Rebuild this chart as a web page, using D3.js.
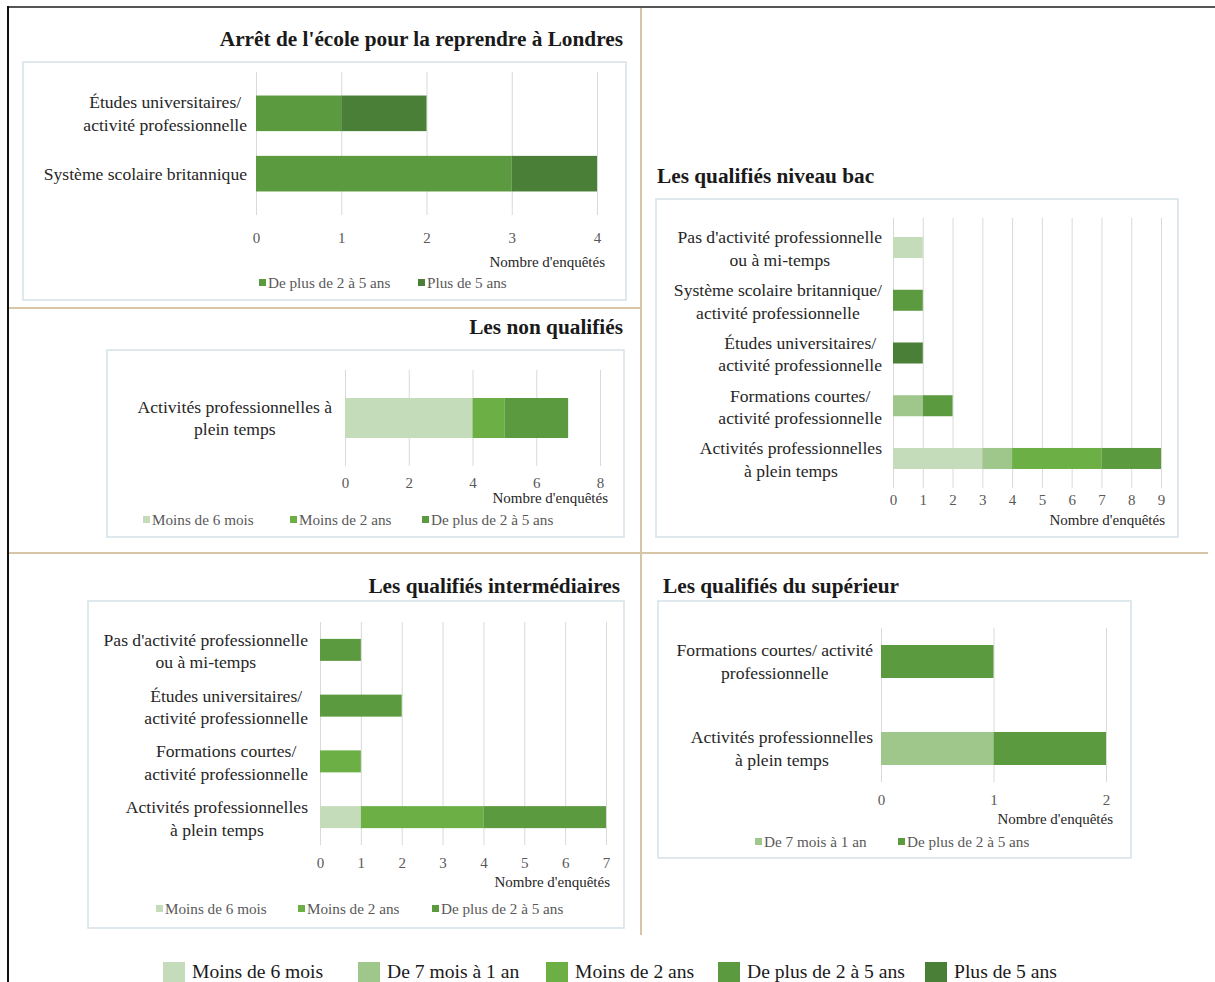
<!DOCTYPE html>
<html><head><meta charset="utf-8">
<script src="https://cdn.jsdelivr.net/npm/d3@7/dist/d3.min.js"></script>
<style>
html,body{margin:0;padding:0;background:#fff;}
svg{display:block;font-family:"Liberation Serif","Times New Roman",serif;}
</style></head>
<body>
<svg id="chart" width="1215" height="982"></svg>
<script>
// ---------- DATA ----------
const seriesNames = ["Moins de 6 mois","De 7 mois à 1 an","Moins de 2 ans","De plus de 2 à 5 ans","Plus de 5 ans"];
const seriesColors = ["#c4dcba","#9fc78c","#6caf45","#5b9a3f","#4a7f37"];

// Arrêt de l'école pour la reprendre à Londres
const londresCategories = ["Études universitaires/\nactivité professionnelle","Système scolaire britannique"];
const londresPlus2a5 = [1,3];
const londresPlus5 = [1,1];

// Les non qualifiés
const nonQualCategories = ["Activités professionnelles à\nplein temps"];
const nonQualMoins6 = [4];
const nonQualMoins2 = [1];
const nonQualPlus2a5 = [2];

// Les qualifiés niveau bac
const bacCategories = ["Pas d'activité professionnelle\nou à mi-temps","Système scolaire britannique/\nactivité professionnelle","Études universitaires/\nactivité professionnelle","Formations courtes/\nactivité professionnelle","Activités professionnelles\nà plein temps"];
const bacMoins6 = [1,0,0,0,3];
const bac7a12 = [0,0,0,1,1];
const bacMoins2 = [0,0,0,0,3];
const bacPlus2a5 = [0,1,0,1,2];
const bacPlus5 = [0,0,1,0,0];

// Les qualifiés intermédiaires
const interCategories = ["Pas d'activité professionnelle\nou à mi-temps","Études universitaires/\nactivité professionnelle","Formations courtes/\nactivité professionnelle","Activités professionnelles\nà plein temps"];
const interMoins6 = [0,0,0,1];
const interMoins2 = [0,0,1,3];
const interPlus2a5 = [1,2,0,3];

// Les qualifiés du supérieur
const supCategories = ["Formations courtes/ activité\nprofessionnelle","Activités professionnelles\nà plein temps"];
const sup7a12 = [0,1];
const supPlus2a5 = [1,1];

const axisTitle = "Nombre d'enquêtés";

// ---------- DRAW ----------
const svg = d3.select("#chart");
const color = d3.scaleOrdinal().domain(seriesNames).range(seriesColors);

// frame & dividers
svg.append("line").attr("x1",8).attr("x2",1215).attr("y1",7).attr("y2",7).attr("stroke","#555").attr("stroke-width",2);
svg.append("line").attr("x1",8).attr("x2",8).attr("y1",6).attr("y2",982).attr("stroke","#111").attr("stroke-width",2);
const tan = "#d6c6a6";
svg.append("line").attr("x1",641).attr("x2",641).attr("y1",8).attr("y2",935).attr("stroke",tan).attr("stroke-width",2);
svg.append("line").attr("x1",9).attr("x2",641).attr("y1",308).attr("y2",308).attr("stroke",tan).attr("stroke-width",2);
svg.append("line").attr("x1",9).attr("x2",1208).attr("y1",553).attr("y2",553).attr("stroke",tan).attr("stroke-width",2);

function buildRows(cats, seriesMap){
  return cats.map((c,i)=>{
    const r = {cat:c};
    seriesNames.forEach(s=>{ r[s] = seriesMap[s] ? seriesMap[s][i] : 0; });
    return r;
  });
}

function panel(cfg){
  const g = svg.append("g");
  // box
  g.append("rect").attr("x",cfg.box[0]).attr("y",cfg.box[1])
    .attr("width",cfg.box[2]-cfg.box[0]).attr("height",cfg.box[3]-cfg.box[1])
    .attr("fill","#fff").attr("stroke","#d5e1e8").attr("stroke-width",1.5);
  // title
  g.append("text").attr("x",cfg.titlePos[0]).attr("y",cfg.titlePos[1])
    .attr("text-anchor",cfg.titleAnchor).attr("font-weight","bold").attr("font-size",21.3)
    .attr("fill","#1a1a1a").text(cfg.title);

  const x = d3.scaleLinear().domain([0,cfg.max]).range([cfg.x0,cfg.x1]);
  const y = d3.scaleBand().domain(cfg.categories).range([cfg.gridTop,cfg.gridBottom])
    .paddingInner(cfg.pi).paddingOuter(cfg.po);

  const tv = d3.range(0,cfg.max+0.001,cfg.step);
  // grid via axis
  const grid = g.append("g").attr("transform",`translate(0,${cfg.gridBottom})`)
    .call(d3.axisBottom(x).tickValues(tv)
      .tickSize(-(cfg.gridBottom-cfg.gridTop)).tickFormat(""));
  grid.select(".domain").remove();
  grid.selectAll("line").attr("stroke","#d9d9d9").attr("stroke-width",1);

  // tick labels via axis
  const ax = g.append("g").attr("transform",`translate(0,${cfg.tickY})`)
    .call(d3.axisBottom(x).tickValues(tv).tickSize(0).tickPadding(0).tickFormat(d3.format("d")));
  ax.select(".domain").remove();
  ax.selectAll("text").attr("font-family","Liberation Serif, serif").attr("font-size",15)
    .attr("fill","#595959").attr("dy","0.35em").attr("y",0);

  // bars
  const rows = buildRows(cfg.categories, cfg.series);
  const stack = d3.stack().keys(seriesNames)(rows);
  const bh = cfg.barH || y.bandwidth();
  g.selectAll("g.layer").data(stack).join("g").attr("class","layer").attr("fill",d=>color(d.key))
    .selectAll("rect").data(d=>d.filter(p=>p[1]-p[0]>0)).join("rect")
    .attr("x",p=>x(p[0])).attr("width",p=>x(p[1])-x(p[0]))
    .attr("y",p=>y(p.data.cat)+y.bandwidth()/2-bh/2).attr("height",bh);

  // category labels (block right-aligned, lines centered)
  const rightEdge = cfg.x0 - cfg.labelGap;
  cfg.categories.forEach(c=>{
    const lines = c.split("\n");
    const cy = y(c)+y.bandwidth()/2 + (cfg.labelDy||0);
    const t = g.append("text").attr("font-size",17.6).attr("fill","#262626").attr("text-anchor","middle");
    lines.forEach((l,i)=>{
      t.append("tspan").attr("x",0).attr("y",cy + (i-(lines.length-1)/2)*22.5).attr("dy","0.35em").text(l);
    });
    const w = d3.max(t.selectAll("tspan").nodes(), n=>n.getComputedTextLength());
    t.selectAll("tspan").attr("x",rightEdge - w/2);
  });

  // axis title
  g.append("text").attr("x",cfg.axisTitlePos[0]).attr("y",cfg.axisTitlePos[1]).attr("text-anchor","end")
    .attr("font-size",15).attr("fill","#262626").text(axisTitle);

  // legend
  if(cfg.legend){
    cfg.legend.keys.forEach((k,i)=>{
      const lx = cfg.legend.xs[i];
      g.append("rect").attr("x",lx).attr("y",cfg.legend.y-4).attr("width",7).attr("height",7).attr("fill",color(k));
      g.append("text").attr("x",lx+9).attr("y",cfg.legend.y).attr("dy","0.35em")
        .attr("font-size",15.2).attr("fill","#595959").text(k);
    });
  }
}

panel({
  title:"Arrêt de l'école pour la reprendre à Londres", titlePos:[623,46], titleAnchor:"end",
  box:[23,62,626,300], categories:londresCategories,
  series:{"De plus de 2 à 5 ans":londresPlus2a5,"Plus de 5 ans":londresPlus5},
  max:4, step:1, x0:256, x1:597, gridTop:72, gridBottom:215, pi:0.41, po:0.39,
  tickY:238, labelGap:9, axisTitlePos:[605,267],
  legend:{keys:["De plus de 2 à 5 ans","Plus de 5 ans"], xs:[259,418], y:283}
});

panel({
  title:"Les non qualifiés", titlePos:[623,334], titleAnchor:"end",
  box:[107,350,624,537], categories:nonQualCategories,
  series:{"Moins de 6 mois":nonQualMoins6,"Moins de 2 ans":nonQualMoins2,"De plus de 2 à 5 ans":nonQualPlus2a5},
  max:8, step:2, x0:345, x1:600, gridTop:370, gridBottom:466, pi:0.2, po:0.6, barH:40,
  tickY:483, labelGap:13, axisTitlePos:[608,503],
  legend:{keys:["Moins de 6 mois","Moins de 2 ans","De plus de 2 à 5 ans"], xs:[143,290,422], y:520}
});

panel({
  title:"Les qualifiés niveau bac", titlePos:[657,183], titleAnchor:"start",
  box:[656,199,1178,537], categories:bacCategories,
  series:{"Moins de 6 mois":bacMoins6,"De 7 mois à 1 an":bac7a12,"Moins de 2 ans":bacMoins2,"De plus de 2 à 5 ans":bacPlus2a5,"Plus de 5 ans":bacPlus5},
  max:9, step:1, x0:893, x1:1161, gridTop:218, gridBottom:488, pi:0.6, po:0.36, barH:21,
  tickY:500, labelGap:11, labelDy:1, axisTitlePos:[1165,525]
});

panel({
  title:"Les qualifiés intermédiaires", titlePos:[620,593], titleAnchor:"end",
  box:[88,601,624,928], categories:interCategories,
  series:{"Moins de 6 mois":interMoins6,"Moins de 2 ans":interMoins2,"De plus de 2 à 5 ans":interPlus2a5},
  max:7, step:1, x0:320, x1:606, gridTop:622, gridBottom:845, pi:0.6, po:0.3, barH:22,
  tickY:863, labelGap:12, labelDy:1, axisTitlePos:[610,887],
  legend:{keys:["Moins de 6 mois","Moins de 2 ans","De plus de 2 à 5 ans"], xs:[156,298,432], y:909}
});

panel({
  title:"Les qualifiés du supérieur", titlePos:[663,593], titleAnchor:"start",
  box:[658,601,1131,858], categories:supCategories,
  series:{"De 7 mois à 1 an":sup7a12,"De plus de 2 à 5 ans":supPlus2a5},
  max:2, step:1, x0:881, x1:1106, gridTop:628, gridBottom:782, pi:0.59, po:0.18, barH:33,
  tickY:800, labelGap:8, axisTitlePos:[1113,824],
  legend:{keys:["De 7 mois à 1 an","De plus de 2 à 5 ans"], xs:[755,898], y:842}
});

// bottom global legend
const legendXs = [163,358,546,718,925];
const gl = svg.append("g");
seriesNames.forEach((s,i)=>{
  gl.append("rect").attr("x",legendXs[i]).attr("y",962).attr("width",22).attr("height",22).attr("fill",color(s));
  gl.append("text").attr("x",legendXs[i]+29).attr("y",978).attr("font-size",19.6).attr("fill","#1a1a1a").text(s);
});
</script>
</body></html>
